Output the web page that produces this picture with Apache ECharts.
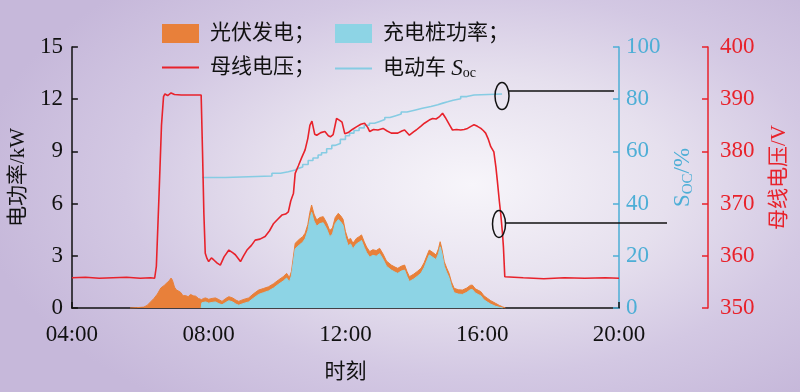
<!DOCTYPE html>
<html>
<head>
<meta charset="utf-8">
<script src="https://cdn.jsdelivr.net/npm/echarts@6/dist/echarts.min.js"></script>
<style>
html,body{margin:0;padding:0;}
body{width:800px;height:392px;overflow:hidden;
background:radial-gradient(ellipse 62% 70% at 59% 47%, #f7f5fa 0%, #e6e0ee 40%, #d3c8e3 70%, #c6b8da 100%);}
#c{width:800px;height:392px;}
</style>
</head>
<body>
<div id="c"></div>
<script>
// ---- data (time in hours) ----
const xTicks = ['04:00','08:00','12:00','16:00','20:00'];
const pvTime = [5.70,5.90,6.10,6.20,6.30,6.40,6.50,6.60,6.70,6.78,6.84,6.90,6.94,7.00,7.05,7.10,7.18,7.25,7.32,7.40,7.47,7.55,7.62,7.70,7.79,7.85,7.91,8.00,8.10,8.20,8.30,8.39,8.50,8.59,8.70,8.80,8.88,9.00,9.17,9.30,9.46,9.60,9.75,9.90,10.04,10.18,10.28,10.36,10.42,10.53,10.65,10.75,10.82,10.90,10.96,11.01,11.08,11.16,11.25,11.35,11.45,11.54,11.62,11.70,11.79,11.86,11.93,12.00,12.08,12.15,12.22,12.32,12.40,12.47,12.55,12.62,12.71,12.80,12.90,13.00,13.10,13.20,13.34,13.45,13.53,13.63,13.73,13.80,13.87,14.00,14.10,14.21,14.30,14.38,14.45,14.55,14.65,14.72,14.77,14.82,14.89,14.96,15.03,15.10,15.18,15.30,15.42,15.55,15.65,15.71,15.80,15.90,15.96,16.05,16.15,16.25,16.39,16.50,16.59,16.68];
const pvPower = [0,0.02,0.05,0.15,0.35,0.55,0.80,1.15,1.30,1.45,1.55,1.72,1.60,1.20,1.05,1.10,0.90,0.70,0.72,0.65,0.78,0.70,0.68,0.55,0.48,0.55,0.58,0.50,0.55,0.58,0.48,0.38,0.55,0.65,0.58,0.45,0.38,0.48,0.58,0.80,1.03,1.12,1.22,1.40,1.61,1.80,1.99,1.75,2.10,3.72,3.95,4.10,4.30,4.80,5.50,5.92,5.40,5.06,5.20,5.25,4.90,4.45,4.60,5.20,5.44,5.30,5.10,4.40,3.91,4.00,3.72,4.00,4.10,4.20,3.80,3.50,3.24,3.35,3.30,3.43,3.10,2.70,2.47,2.35,2.28,2.40,2.47,2.10,1.80,1.95,2.10,2.28,2.60,3.00,3.33,3.20,3.05,3.40,3.81,3.40,2.66,2.30,1.99,1.50,1.13,1.05,1.03,1.15,1.30,1.32,1.10,1.00,0.94,0.70,0.56,0.42,0.27,0.15,0.07,0];
const chTime = [7.78,7.80,7.91,8.00,8.10,8.20,8.30,8.39,8.50,8.59,8.70,8.80,8.88,9.00,9.17,9.30,9.46,9.60,9.75,9.90,10.04,10.18,10.28,10.36,10.42,10.53,10.65,10.75,10.82,10.90,10.96,11.01,11.08,11.16,11.25,11.35,11.45,11.54,11.62,11.70,11.79,11.86,11.93,12.00,12.08,12.15,12.22,12.32,12.40,12.47,12.55,12.62,12.71,12.80,12.90,13.00,13.10,13.20,13.34,13.45,13.53,13.63,13.73,13.80,13.87,14.00,14.10,14.21,14.30,14.38,14.45,14.55,14.65,14.72,14.77,14.82,14.89,14.96,15.03,15.10,15.18,15.30,15.42,15.55,15.65,15.71,15.80,15.90,15.96,16.05,16.15,16.25,16.39,16.50,16.60];
const chPower = [0,0.30,0.35,0.28,0.32,0.35,0.25,0.18,0.32,0.42,0.35,0.22,0.16,0.25,0.35,0.55,0.78,0.88,0.98,1.15,1.36,1.55,1.72,1.50,1.85,3.40,3.62,3.78,3.98,4.45,5.10,5.50,5.00,4.70,4.85,4.90,4.55,4.10,4.25,4.85,5.08,4.95,4.75,4.05,3.58,3.68,3.40,3.68,3.78,3.88,3.48,3.18,2.92,3.03,2.98,3.12,2.80,2.40,2.18,2.06,1.99,2.12,2.18,1.82,1.52,1.67,1.82,2.00,2.32,2.72,3.05,2.92,2.78,3.12,3.52,3.15,2.40,2.05,1.74,1.25,0.88,0.80,0.78,0.90,1.05,1.07,0.86,0.76,0.70,0.47,0.34,0.22,0.10,0.04,0];
const busTime = [4.00,4.40,4.80,5.20,5.60,6.00,6.30,6.42,6.47,6.55,6.62,6.68,6.72,6.80,6.90,7.00,7.20,7.50,7.78,7.82,7.86,7.90,7.95,8.00,8.08,8.15,8.25,8.34,8.45,8.59,8.70,8.78,8.93,9.02,9.12,9.25,9.36,9.50,9.65,9.78,9.90,10.02,10.14,10.25,10.33,10.40,10.48,10.53,10.62,10.72,10.82,10.90,10.96,11.02,11.10,11.16,11.28,11.40,11.50,11.56,11.64,11.74,11.82,11.90,11.98,12.08,12.20,12.32,12.45,12.56,12.65,12.71,12.82,12.95,13.10,13.22,13.34,13.53,13.65,13.73,13.87,14.00,14.07,14.20,14.31,14.45,14.55,14.65,14.74,14.84,14.92,14.99,15.06,15.13,15.25,15.37,15.47,15.57,15.67,15.76,15.86,15.96,16.03,16.10,16.18,16.25,16.34,16.40,16.44,16.50,16.54,16.59,16.62,16.66,16.70,17.20,17.80,18.40,19.00,19.60,20.00];
const busVolt = [355.8,355.9,355.7,355.8,355.9,355.7,355.8,355.7,358,372,385,390.5,391.0,390.7,391.2,390.9,390.8,390.8,390.8,380,368,360.5,359.5,358.9,359.6,359.2,358.6,358.2,359.8,361.1,360.6,360.2,358.9,360.0,361.1,362.0,363.0,363.2,363.7,364.8,366.2,367.0,367.8,368.0,368.4,370.5,372.0,375.8,377.2,378.8,380.3,382.5,385.0,385.8,383.3,383.1,383.6,383.8,383.0,382.8,383.2,386.3,386.0,385.6,383.4,383.6,384.2,384.7,385.2,385.4,384.6,383.8,384.2,384.1,384.4,383.9,383.5,383.5,383.9,384.1,383.1,383.8,384.1,384.8,385.4,386.0,386.3,386.2,386.6,387.3,386.5,385.7,384.9,384.1,384.2,384.1,384.2,384.4,384.8,385.1,384.8,384.4,384.0,383.5,382.3,380.9,379.9,377.0,374.5,370.5,368.1,364.5,361.7,356.0,355.7,355.8,355.6,355.8,355.7,355.8,355.7];
const socTime = [7.81,8.49,9.85,10.10,10.33,10.53,10.62,10.75,10.91,11.05,11.20,11.30,11.45,11.60,11.69,11.85,12.00,12.12,12.25,12.40,12.55,12.70,12.85,13.00,13.15,13.30,13.45,13.63,13.80,14.02,14.25,14.50,14.70,14.85,14.99,15.15,15.37,15.55,15.76,16.58];
const socValue = [50.0,50.6,51.6,52.2,52.9,53.5,54.0,55.0,56.5,57.5,58.6,59.5,61.0,62.3,63.0,64.6,66.0,67.0,68.0,69.0,70.0,70.8,71.5,72.2,73.0,73.6,74.3,75.1,75.8,76.5,77.2,77.9,78.5,79.0,79.6,80.2,81.0,81.6,82.0,82.0];

const zip = (a,b) => a.map((t,i)=>[t,b[i]]);
const SERIF = '"Liberation Serif","Noto Sans CJK SC",serif';
const C_PV = '#E8803A', C_CH = '#8DD4E5', C_RED = '#E8222B', C_SOC = '#86CCE3', C_SOCAX = '#4DAED6';
const NUM = 23, CJK = 21;

const chart = echarts.init(document.getElementById('c'));
const legendBase = {
  orient:'horizontal', itemWidth:37, itemHeight:19, selectedMode:false, padding:0,
  textStyle:{fontSize:CJK, color:'#111', fontFamily:SERIF,
    rich:{s:{width:6}, i:{fontStyle:'italic', fontSize:NUM, fontFamily:SERIF},
          sub:{fontSize:14, fontFamily:SERIF, verticalAlign:'bottom', padding:[10,0,0,0]}}}
};
chart.setOption({
  animation:false,
  backgroundColor:'transparent',
  grid:{left:69, right:181, top:47, bottom:84, containLabel:false},
  legend:[
    Object.assign({}, legendBase, {left:162, top:23, data:[{name:'光伏发电', icon:'rect'}], formatter:'{s|}光伏发电；'}),
    Object.assign({}, legendBase, {left:335, top:23, data:[{name:'充电桩功率', icon:'rect'}], formatter:'{s|}充电桩功率；'}),
    Object.assign({}, legendBase, {left:162, top:57, itemHeight:2, data:[{name:'母线电压', icon:'rect'}], formatter:'{s|}母线电压；'}),
    Object.assign({}, legendBase, {left:335, top:57, itemHeight:2, data:[{name:'电动车Soc', icon:'rect'}], formatter:'{s|}电动车 {i|S}{sub|oc}'})
  ],
  xAxis:{
    type:'value', min:4, max:20, interval:4,
    axisLine:{lineStyle:{color:'#111', width:1.5}},
    axisTick:{inside:true, length:6, lineStyle:{color:'#111', width:1.5}},
    axisLabel:{fontSize:NUM, color:'#111', fontFamily:SERIF, margin:15,
      formatter:v=>xTicks[Math.round((v-4)/4)]},
    splitLine:{show:false},
    name:'时刻', nameLocation:'middle', nameGap:54,
    nameTextStyle:{fontSize:CJK, color:'#111', fontFamily:SERIF}
  },
  yAxis:[
    {type:'value', min:0, max:15, interval:3, position:'left',
     axisLine:{show:true, lineStyle:{color:'#111', width:1.5}},
     axisTick:{show:true, inside:true, length:6, lineStyle:{color:'#111', width:1.5}},
     axisLabel:{fontSize:NUM, color:'#111', fontFamily:SERIF, margin:9},
     splitLine:{show:false},
     name:'电功率/kW', nameLocation:'middle', nameRotate:90, nameGap:40,
     nameTextStyle:{fontSize:CJK, color:'#111', fontFamily:SERIF}},
    {type:'value', min:0, max:100, interval:20, position:'right', offset:0,
     axisLine:{show:true, lineStyle:{color:C_SOCAX, width:1.5}},
     axisTick:{show:true, inside:true, length:6, lineStyle:{color:C_SOCAX, width:1.5}},
     axisLabel:{fontSize:NUM, color:C_SOCAX, fontFamily:SERIF, margin:7},
     splitLine:{show:false},
     name:'{a|S}{b|OC}{a|/%}', nameLocation:'middle', nameRotate:90, nameGap:47,
     nameTextStyle:{color:C_SOCAX, rich:{a:{fontSize:NUM, color:C_SOCAX, fontFamily:SERIF},
       b:{fontSize:15, color:C_SOCAX, fontFamily:SERIF, verticalAlign:'bottom', padding:[10,0,0,0]}}}},
    {type:'value', min:350, max:400, interval:10, position:'right', offset:89,
     axisLine:{show:true, lineStyle:{color:C_RED, width:1.5}},
     axisTick:{show:true, inside:true, length:6, lineStyle:{color:C_RED, width:1.5}},
     axisLabel:{fontSize:NUM, color:C_RED, fontFamily:SERIF, margin:12},
     splitLine:{show:false},
     name:'母线电压/V', nameLocation:'middle', nameRotate:90, nameGap:61,
     nameTextStyle:{fontSize:CJK, color:C_RED, fontFamily:SERIF}}
  ],
  series:[
    {name:'光伏发电', type:'line', yAxisIndex:0, data:zip(pvTime,pvPower), symbol:'none',
     itemStyle:{color:C_PV}, lineStyle:{color:C_PV, width:1}, areaStyle:{color:C_PV, opacity:1}, z:2},
    {name:'充电桩功率', type:'line', yAxisIndex:0, data:zip(chTime,chPower), symbol:'none',
     itemStyle:{color:C_CH}, lineStyle:{color:C_CH, width:1}, areaStyle:{color:C_CH, opacity:1}, z:3},
    {name:'母线电压', type:'line', yAxisIndex:2, data:zip(busTime,busVolt), symbol:'none',
     itemStyle:{color:C_RED}, lineStyle:{color:C_RED, width:1.6}, z:5},
    {name:'电动车Soc', type:'line', yAxisIndex:1, data:zip(socTime,socValue), symbol:'none', step:'end',
     itemStyle:{color:C_SOC}, lineStyle:{color:C_SOC, width:1.6}, z:4}
  ],
  graphic:[
    {type:'ellipse', shape:{cx:502, cy:96, rx:7, ry:13.5}, style:{fill:'none', stroke:'#111', lineWidth:1.5}, z:10},
    {type:'line', shape:{x1:509, y1:91, x2:614, y2:91}, style:{stroke:'#111', lineWidth:1.5}, z:10},
    {type:'ellipse', shape:{cx:499, cy:224, rx:6.5, ry:13.5}, style:{fill:'none', stroke:'#111', lineWidth:1.5}, z:10},
    {type:'line', shape:{x1:505.5, y1:223, x2:667, y2:223}, style:{stroke:'#111', lineWidth:1.5}, z:10}
  ]
});
</script>
</body>
</html>
